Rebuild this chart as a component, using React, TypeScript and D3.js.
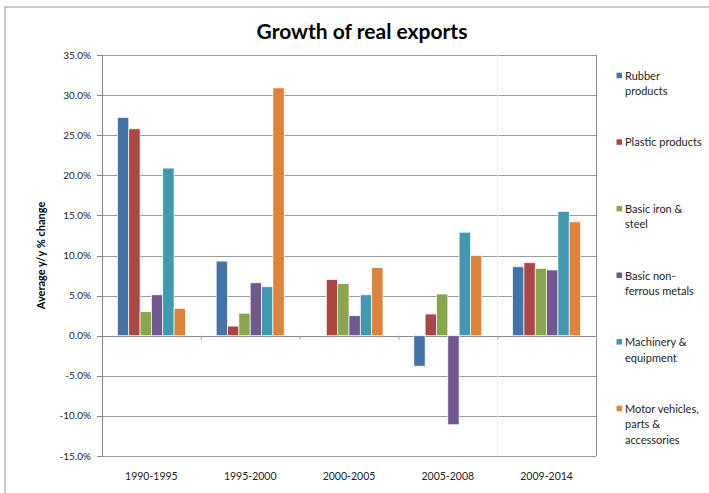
import React from "react";
import * as d3 from "d3";

const categories = ["1990-1995", "1995-2000", "2000-2005", "2005-2008", "2009-2014"];
const seriesNames = [
  "Rubber products",
  "Plastic products",
  "Basic iron & steel",
  "Basic non-ferrous metals",
  "Machinery & equipment",
  "Motor vehicles, parts & accessories",
];
const legendLines = [
  ["Rubber", "products"],
  ["Plastic products"],
  ["Basic iron &", "steel"],
  ["Basic non-", "ferrous metals"],
  ["Machinery &", "equipment"],
  ["Motor vehicles,", "parts &", "accessories"],
];
const rubber = [27.2, 9.3, null, -3.8, 8.6];
const plastic = [25.8, 1.2, 7.0, 2.7, 9.1];
const ironSteel = [3.0, 2.8, 6.5, 5.2, 8.4];
const nonFerrous = [5.1, 6.6, 2.5, -11.1, 8.2];
const machinery = [20.9, 6.1, 5.1, 12.9, 15.5];
const motor = [3.4, 30.9, 8.5, 10.0, 14.2];
const yTicks = [-15, -10, -5, 0, 5, 10, 15, 20, 25, 30, 35];

const seriesValues = [rubber, plastic, ironSteel, nonFerrous, machinery, motor];
const colors = ["#4572A7", "#AA4643", "#89A54E", "#71588F", "#4198AF", "#DB843D"];

const FONT = "Lato, 'Open Sans', 'DejaVu Sans', sans-serif";

export default function App() {
  const W = 709;
  const H = 493;
  const left = 102;
  const right = 596;
  const top = 55;
  const bottom = 456;

  const y = d3.scaleLinear().domain([-15, 35]).range([bottom, top]);
  const x = d3.scaleBand<string>().domain(categories).range([left, right]).padding(0);
  const bw = x.bandwidth();
  const barW = bw / (6 + 2.72);
  const gap = (bw - barW * 6) / 2;
  const inner = d3
    .scaleBand<number>()
    .domain(d3.range(6))
    .range([gap, bw - gap])
    .padding(0);

  const y0 = y(0);
  const legendStep = 66.6;

  return (
    <svg
      width={W}
      height={H}
      style={{ position: "absolute", left: 0, top: 0, background: "#fff" }}
      fontFamily={FONT}
    >
      <rect x={0} y={0} width={W} height={H} fill="#fff" />
      {/* chart border */}
      <rect x={5} y={7} width={W + 20} height={H + 20} fill="none" stroke="#a6a6a6" strokeWidth={1.2} />

      {/* title */}
      <text x={362} y={39} textAnchor="middle" fontSize={21} fontWeight="bold" fill="#000">
        Growth of real exports
      </text>

      {/* gridlines */}
      {yTicks.map((t) => (
        <line
          key={"g" + t}
          x1={left}
          x2={right}
          y1={Math.round(y(t)) + 0.5}
          y2={Math.round(y(t)) + 0.5}
          stroke="#9a9a9a"
          strokeWidth={1}
        />
      ))}
      {/* faint vertical line */}
      <line x1={497.5} x2={497.5} y1={top} y2={bottom} stroke="#eeeeee" strokeWidth={1} />
      {/* right border of plot */}
      <line x1={right + 0.5} x2={right + 0.5} y1={top} y2={bottom} stroke="#8c8c8c" strokeWidth={1} />

      {/* y axis */}
      <line x1={left + 0.5} x2={left + 0.5} y1={top} y2={bottom + 0.5} stroke="#868686" strokeWidth={1} />
      {yTicks.map((t) => (
        <g key={"t" + t}>
          <line
            x1={left - 5}
            x2={left}
            y1={Math.round(y(t)) + 0.5}
            y2={Math.round(y(t)) + 0.5}
            stroke="#868686"
          />
          <text x={91} y={y(t) + 3.5} textAnchor="end" fontSize={10} fill="#222">
            {t.toFixed(1) + "%"}
          </text>
        </g>
      ))}

      {/* y axis title */}
      <text
        transform={`translate(45,${(top + bottom) / 2}) rotate(-90)`}
        textAnchor="middle"
        fontSize={11}
        fontWeight="bold"
        fill="#000"
      >
        Average y/y % change
      </text>

      {/* x axis line */}
      <line x1={left} x2={right} y1={Math.round(y0) + 0.5} y2={Math.round(y0) + 0.5} stroke="#868686" />
      {categories.map((c) => (
        <line
          key={"xt" + c}
          x1={(x(c) as number) + bw + 0.5}
          x2={(x(c) as number) + bw + 0.5}
          y1={y0}
          y2={y0 + 4}
          stroke="#a0a0a0"
        />
      ))}

      {/* bars */}
      {seriesValues.map((vals, si) =>
        vals.map((v, ci) => {
          if (v === null || v === undefined) return null;
          const bx = (x(categories[ci]) as number) + (inner(si) as number);
          const yv = y(v);
          return (
            <rect
              key={`b${si}-${ci}`}
              x={bx}
              y={Math.min(yv, y0)}
              width={inner.bandwidth()}
              height={Math.abs(y0 - yv)}
              fill={colors[si]}
              stroke="#ffffff"
              strokeOpacity={0.85}
              strokeWidth={0.8}
            />
          );
        })
      )}

      {/* x labels */}
      {categories.map((c) => (
        <text
          key={"xl" + c}
          x={(x(c) as number) + bw / 2}
          y={480}
          textAnchor="middle"
          fontSize={10.5}
          fill="#222"
        >
          {c}
        </text>
      ))}

      {/* legend */}
      {seriesNames.map((name, i) => {
        const ly = 75.7 + i * legendStep;
        return (
          <g key={"l" + name}>
            <rect x={616.5} y={ly - 3} width={5.5} height={5.5} fill={colors[i]} />
            {legendLines[i].map((ln, k) => (
              <text key={k} x={625} y={ly + 4 + k * 15.5} fontSize={11} fill="#222">
                {ln}
              </text>
            ))}
          </g>
        );
      })}
    </svg>
  );
}
